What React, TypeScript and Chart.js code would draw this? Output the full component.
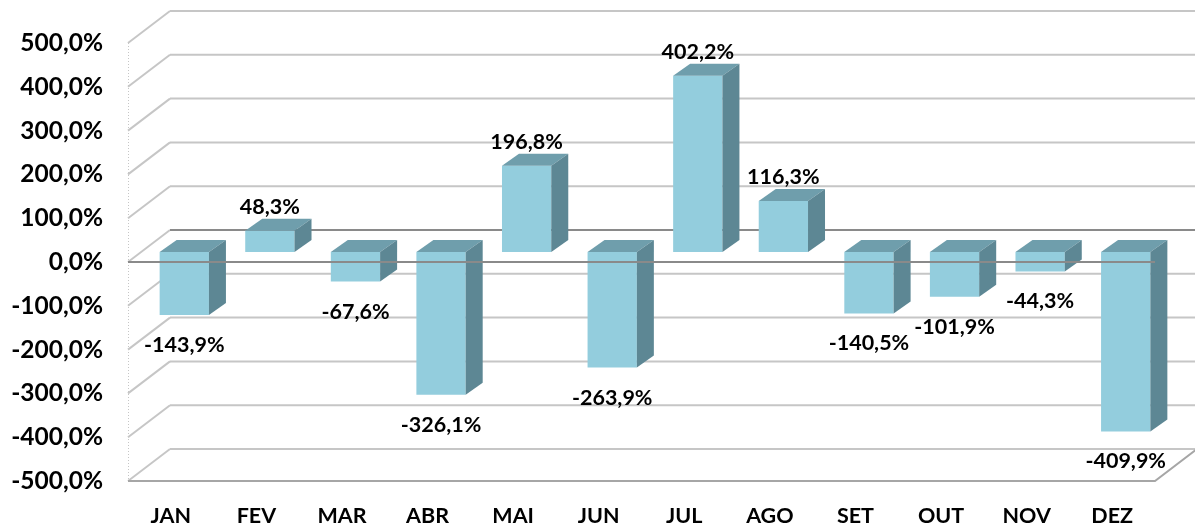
import React, { useEffect, useRef } from 'react';
import { Chart, registerables } from 'chart.js';

Chart.register(...registerables);

const categories = ['JAN', 'FEV', 'MAR', 'ABR', 'MAI', 'JUN', 'JUL', 'AGO', 'SET', 'OUT', 'NOV', 'DEZ'];
const values = [-143.9, 48.3, -67.6, -326.1, 196.8, -263.9, 402.2, 116.3, -140.5, -101.9, -44.3, -409.9];
const yTicks = [-500, -400, -300, -200, -100, 0, 100, 200, 300, 400, 500];

const fmt = (v: number) => v.toFixed(1).replace('.', ',') + '%';

const FRONT_COLOR = '#93CDDD';
const TOP_COLOR = '#6F9EAC';
const SIDE_COLOR = '#5D8794';
const GRID_COLOR = '#c6c6c6';
const DARK_COLOR = '#8a8a8a';

const DEPTH_DX = 42;
const DEPTH_DY = -32;
const BAR_OFF_X = 13.5;
const BAR_OFF_Y = -10;
const BAR_DX = 17;
const BAR_DY = -12;

const threeD = {
  id: 'threeD',
  beforeDatasetsDraw(chart: any) {
    const { ctx, chartArea, scales } = chart;
    const y = scales.y;
    const L = chartArea.left;
    const R = chartArea.right;
    ctx.save();
    ctx.strokeStyle = GRID_COLOR;
    ctx.lineWidth = 1;
    ctx.setLineDash([1, 2]);
    ctx.beginPath();
    ctx.moveTo(L + 0.5, y.getPixelForValue(yTicks[yTicks.length - 1]));
    ctx.lineTo(L + 0.5, y.getPixelForValue(yTicks[0]));
    ctx.stroke();
    ctx.setLineDash([]);
    yTicks.forEach((v) => {
      const yf = y.getPixelForValue(v);
      const yb = yf + DEPTH_DY;
      ctx.lineWidth = 2;
      ctx.strokeStyle = GRID_COLOR;
      ctx.beginPath();
      ctx.moveTo(L, yf);
      ctx.lineTo(L + DEPTH_DX, yb);
      ctx.stroke();
      ctx.strokeStyle = v === 0 ? DARK_COLOR : GRID_COLOR;
      ctx.beginPath();
      ctx.moveTo(L + DEPTH_DX, yb);
      ctx.lineTo(chart.width + 5, yb);
      ctx.stroke();
    });
    const yBottom = y.getPixelForValue(yTicks[0]);
    ctx.strokeStyle = '#a6a6a6';
    ctx.lineWidth = 2;
    ctx.beginPath();
    ctx.moveTo(L, yBottom);
    ctx.lineTo(R, yBottom);
    ctx.lineTo(R + DEPTH_DX, yBottom + DEPTH_DY);
    ctx.stroke();
    ctx.restore();
    ctx.save();
    ctx.translate(BAR_OFF_X, BAR_OFF_Y);
  },
  afterDatasetsDraw(chart: any) {
    const { ctx, chartArea, scales } = chart;
    const meta = chart.getDatasetMeta(0);
    const bars: any[] = [];
    meta.data.forEach((bar: any, i: number) => {
      const { x, y, base, width } = bar.getProps(['x', 'y', 'base', 'width'], true);
      const left = x - width / 2;
      const right = x + width / 2;
      const top = Math.min(y, base);
      const bottom = Math.max(y, base);
      ctx.fillStyle = TOP_COLOR;
      ctx.beginPath();
      ctx.moveTo(left, top);
      ctx.lineTo(left + BAR_DX, top + BAR_DY);
      ctx.lineTo(right + BAR_DX, top + BAR_DY);
      ctx.lineTo(right, top);
      ctx.closePath();
      ctx.fill();
      ctx.fillStyle = SIDE_COLOR;
      ctx.beginPath();
      ctx.moveTo(right, top);
      ctx.lineTo(right + BAR_DX, top + BAR_DY);
      ctx.lineTo(right + BAR_DX, bottom + BAR_DY);
      ctx.lineTo(right, bottom);
      ctx.closePath();
      ctx.fill();
      bars.push({ x, top, bottom, v: values[i] });
    });
    ctx.restore();

    // front edge of the zero floor, drawn over the bars
    const y0 = scales.y.getPixelForValue(0);
    ctx.save();
    ctx.strokeStyle = DARK_COLOR;
    ctx.lineWidth = 2;
    ctx.beginPath();
    ctx.moveTo(chartArea.left, y0);
    ctx.lineTo(chartArea.right, y0);
    ctx.stroke();

    ctx.fillStyle = '#000';
    ctx.font = 'bold 21.5px Lato';
    ctx.textAlign = 'center';
    ctx.textBaseline = 'middle';
    bars.forEach((b) => {
      const cx = b.x + BAR_OFF_X;
      const cy = b.v >= 0 ? b.top + BAR_OFF_Y - 23.5 : b.bottom + BAR_OFF_Y + 30;
      ctx.fillText(fmt(b.v), cx, cy);
    });
    ctx.restore();
  },
};

export default function App() {
  const ref = useRef<HTMLCanvasElement | null>(null);
  useEffect(() => {
    if (!ref.current) return;
    const chart = new Chart(ref.current, {
      type: 'bar',
      data: {
        labels: categories,
        datasets: [
          {
            data: values,
            backgroundColor: FRONT_COLOR,
            borderWidth: 0,
            barPercentage: 0.576,
            categoryPercentage: 1,
            clip: false as any,
          },
        ],
      },
      options: {
        animation: false,
        responsive: false,
        devicePixelRatio: 1,
        layout: { padding: { top: 43, right: 40, left: 0, bottom: 0 } },
        plugins: { legend: { display: false }, tooltip: { enabled: false } },
        scales: {
          x: {
            grid: { display: false, drawTicks: false },
            border: { display: false },
            ticks: { color: '#000', font: { family: 'Lato', weight: 'bold', size: 21.5 }, padding: 22 },
            afterFit: (s: any) => { s.height = 47; },
          },
          y: {
            min: -500,
            max: 500,
            grid: { display: false, drawTicks: false },
            border: { display: false },
            ticks: {
              stepSize: 100,
              color: '#000',
              font: { family: 'Lato', weight: 'bold', size: 24.5 },
              padding: 25,
              callback: (v: any) => fmt(Number(v)),
            },
            afterFit: (s: any) => { s.width = 128; },
          },
        },
      },
      plugins: [threeD],
    });
    return () => chart.destroy();
  }, []);
  return (
    <div style={{ position: 'fixed', left: 0, top: 0, width: 1195, height: 528, background: '#fff' }}>
      <canvas ref={ref} width={1195} height={528} />
    </div>
  );
}
